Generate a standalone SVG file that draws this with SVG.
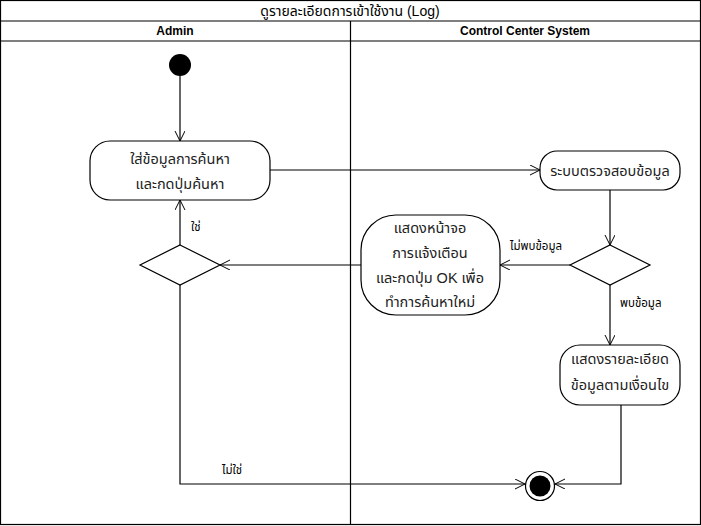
<svg xmlns="http://www.w3.org/2000/svg" width="701" height="526" viewBox="0 0 701 526">
<defs>
<marker id="arr" markerWidth="12" markerHeight="12" refX="10" refY="5" orient="auto" markerUnits="userSpaceOnUse">
<polyline points="0,0 10,5 0,10" fill="none" stroke="#000" stroke-width="1"/>
</marker>
</defs>
<style>
text{font-family:"Liberation Sans","Noto Sans","Noto Sans Thai",Tahoma,sans-serif;fill:#000}
.n{font-size:14.5px;text-anchor:middle;fill:#222}
.t{font-size:14px;text-anchor:middle}
.h{font-size:12px;font-weight:bold;text-anchor:middle}
.l{font-size:11.5px}
.box{fill:#fff;stroke:#000;stroke-width:1.2}
.c{fill:none;stroke:#000;stroke-width:1.2}
</style>
<rect width="701" height="526" fill="#fff"/>
<g id="frame">
<rect x="0.5" y="0.5" width="700" height="524" fill="none" stroke="#000" stroke-width="1.2"/>
<line x1="0" y1="21" x2="701" y2="21" stroke="#000" stroke-width="1.2"/>
<line x1="0" y1="41" x2="701" y2="41" stroke="#000" stroke-width="1.2"/>
<line x1="350.5" y1="21" x2="350.5" y2="525" stroke="#000" stroke-width="1.2"/>
<text x="350" y="16" class="t">ดูรายละเอียดการเข้าใช้งาน (Log)</text>
<text x="175" y="35" class="h">Admin</text>
<text x="525" y="35" class="h">Control Center System</text>
</g>
<g id="connectors">
<line x1="180" y1="76" x2="180" y2="141" class="c" marker-end="url(#arr)"/>
<line x1="270" y1="170" x2="540" y2="170" class="c" marker-end="url(#arr)"/>
<line x1="610" y1="190" x2="610" y2="245" class="c" marker-end="url(#arr)"/>
<line x1="570" y1="265" x2="500" y2="265" class="c" marker-end="url(#arr)"/>
<line x1="361" y1="265" x2="220" y2="265" class="c" marker-end="url(#arr)"/>
<line x1="180" y1="245" x2="180" y2="200" class="c" marker-end="url(#arr)"/>
<polyline points="180,285 180,484 525,484" class="c" marker-end="url(#arr)"/>
<line x1="610" y1="285" x2="610" y2="345" class="c" marker-end="url(#arr)"/>
<polyline points="621,405 621,484 555,484" class="c" marker-end="url(#arr)"/>
<text x="510" y="250" class="l">ไม่พบข้อมูล</text>
<text x="620" y="307" class="l">พบข้อมูล</text>
<text x="191" y="231" class="l">ใช่</text>
<text x="222" y="474" class="l">ไม่ใช่</text>
</g>
<g id="start">
<circle cx="180" cy="65" r="11" fill="#000"/>
</g>
<g id="a1">
<rect x="90" y="141" width="180" height="59" rx="20" class="box"/>
<text x="180" y="164" class="n">ใส่ข้อมูลการค้นหา</text>
<text x="180" y="189" class="n">และกดปุ่มค้นหา</text>
</g>
<g id="a2">
<rect x="540" y="151" width="140" height="39" rx="17" class="box"/>
<text x="610" y="176" class="n">ระบบตรวจสอบข้อมูล</text>
</g>
<g id="d2">
<polygon points="610,245 650,265 610,285 570,265" class="box"/>
</g>
<g id="a3">
<rect x="361" y="215" width="139" height="100" rx="35" class="box"/>
<text x="430" y="233" class="n">แสดงหน้าจอ</text>
<text x="430" y="258" class="n">การแจ้งเตือน</text>
<text x="430" y="283" class="n">และกดปุ่ม OK เพื่อ</text>
<text x="430" y="307" class="n">ทำการค้นหาใหม่</text>
</g>
<g id="d1">
<polygon points="180,245 220,265 180,285 140,265" class="box"/>
</g>
<g id="a4">
<rect x="560" y="345" width="120" height="60" rx="20" class="box"/>
<text x="620" y="364" class="n">แสดงรายละเอียด</text>
<text x="620" y="390" class="n">ข้อมูลตามเงื่อนไข</text>
</g>
<g id="end">
<circle cx="540" cy="486" r="14.5" fill="#fff" stroke="#000" stroke-width="1.2"/>
<circle cx="540" cy="486" r="10.5" fill="#000"/>
</g>
</svg>
